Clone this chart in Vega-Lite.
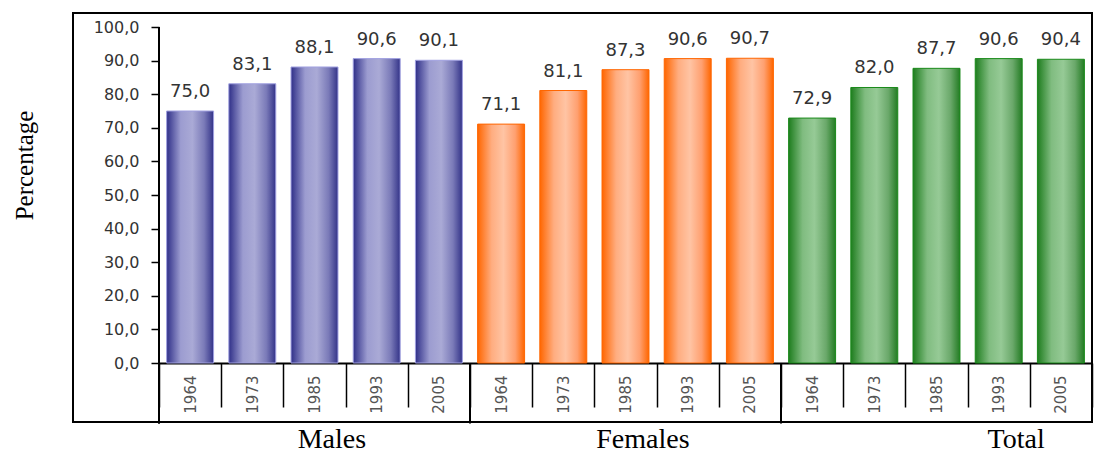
{
  "$schema": "https://vega.github.io/schema/vega-lite/v6.json",
  "width": 1019,
  "height": 409,
  "autosize": {"type": "none"},
  "padding": {"left": 73, "top": 13, "right": 3, "bottom": 33},
  "background": "white",
  "config": {
    "locale": {"number": {"decimal": ",", "thousands": ".", "grouping": [3], "currency": ["", " €"]}},
    "view": {"stroke": "black", "strokeWidth": 2}
  },
  "datasets": {
    "rates": [
      {"group": "Males", "year": "1964", "cat": "Males|1964", "value": 75.0},
      {"group": "Males", "year": "1973", "cat": "Males|1973", "value": 83.1},
      {"group": "Males", "year": "1985", "cat": "Males|1985", "value": 88.1},
      {"group": "Males", "year": "1993", "cat": "Males|1993", "value": 90.6},
      {"group": "Males", "year": "2005", "cat": "Males|2005", "value": 90.1},
      {"group": "Females", "year": "1964", "cat": "Females|1964", "value": 71.1},
      {"group": "Females", "year": "1973", "cat": "Females|1973", "value": 81.1},
      {"group": "Females", "year": "1985", "cat": "Females|1985", "value": 87.3},
      {"group": "Females", "year": "1993", "cat": "Females|1993", "value": 90.6},
      {"group": "Females", "year": "2005", "cat": "Females|2005", "value": 90.7},
      {"group": "Total", "year": "1964", "cat": "Total|1964", "value": 72.9},
      {"group": "Total", "year": "1973", "cat": "Total|1973", "value": 82.0},
      {"group": "Total", "year": "1985", "cat": "Total|1985", "value": 87.7},
      {"group": "Total", "year": "1993", "cat": "Total|1993", "value": 90.6},
      {"group": "Total", "year": "2005", "cat": "Total|2005", "value": 90.4}
    ],
    "groups": [
      {"label": "Males", "at": "Males|1985"},
      {"label": "Females", "at": "Females|1985"},
      {"label": "Total", "at": "Total|1993"}
    ]
  },
  "data": {"name": "rates"},
  "layer": [
    {
      "mark": {"type": "bar", "width": {"band": 0.755}, "strokeWidth": 1},
      "encoding": {
        "x": {
          "field": "cat", "type": "nominal",
          "scale": {
            "domain": ["Males|1964","Males|1973","Males|1985","Males|1993","Males|2005","Females|1964","Females|1973","Females|1985","Females|1993","Females|2005","Total|1964","Total|1973","Total|1985","Total|1993","Total|2005"],
            "range": [86, 1019], "paddingInner": 0, "paddingOuter": 0
          },
          "axis": {
            "orient": "bottom", "offset": -59, "title": null,
            "domainColor": "black", "domainWidth": 2,
            "tickBand": "extent", "tickSize": 44, "tickColor": "black", "tickWidth": 1.5,
            "labelAngle": 270, "labelExpr": "split(datum.label, '|')[1]",
            "labelFont": "DejaVu Sans", "labelFontSize": 15, "labelColor": "#555555",
            "labelPadding": -32, "labelAlign": "right", "labelBaseline": "middle",
            "labelOverlap": false
          }
        },
        "y": {
          "field": "value", "type": "quantitative",
          "scale": {"domain": [-17.56, 104.17], "nice": false, "zero": false},
          "axis": {
            "values": [0, 10, 20, 30, 40, 50, 60, 70, 80, 90, 100],
            "format": ".1f", "offset": -86, "domain": false, "grid": false,
            "tickSize": 8, "tickColor": "black", "tickWidth": 1.5,
            "labelFont": "DejaVu Sans", "labelFontSize": 16, "labelColor": "#333333", "labelPadding": 12,
            "title": "Percentage", "titleFont": "Liberation Serif", "titleFontSize": 25,
            "titleFontWeight": "normal", "titleColor": "black",
            "titleX": -135, "titleY": 152, "titleAngle": 270, "titleAlign": "center", "titleBaseline": "middle"
          }
        },
        "y2": {"datum": 0},
        "color": {
          "condition": [
            {"test": "datum.group === 'Males'", "value": {"gradient": "linear", "x1": 0, "x2": 1, "y1": 0, "y2": 0, "stops": [
              {"offset": 0, "color": "#2f2f88"}, {"offset": 0.3, "color": "#9c9cd0"}, {"offset": 0.55, "color": "#aaaad6"}, {"offset": 0.8, "color": "#7a7ab8"}, {"offset": 1, "color": "#333388"}]}},
            {"test": "datum.group === 'Females'", "value": {"gradient": "linear", "x1": 0, "x2": 1, "y1": 0, "y2": 0, "stops": [
              {"offset": 0, "color": "#ff6600"}, {"offset": 0.3, "color": "#ffad80"}, {"offset": 0.55, "color": "#ffc4a4"}, {"offset": 0.8, "color": "#ffa070"}, {"offset": 1, "color": "#ff6600"}]}}
          ],
          "value": {"gradient": "linear", "x1": 0, "x2": 1, "y1": 0, "y2": 0, "stops": [
            {"offset": 0, "color": "#1e7d1e"}, {"offset": 0.3, "color": "#80bc80"}, {"offset": 0.55, "color": "#96ca96"}, {"offset": 0.8, "color": "#6aa86a"}, {"offset": 1, "color": "#237c23"}]}
        },
        "stroke": {
          "condition": [
            {"test": "datum.group === 'Males'", "value": "#a0a0e0"},
            {"test": "datum.group === 'Females'", "value": "#ff6600"}
          ],
          "value": "#1a8a1a"
        }
      }
    },
    {
      "mark": {"type": "text", "dy": -14, "baseline": "alphabetic", "align": "center", "font": "DejaVu Sans", "fontSize": 18, "fill": "#333333"},
      "encoding": {
        "x": {"field": "cat", "type": "nominal"},
        "y": {"field": "value", "type": "quantitative"},
        "text": {"field": "value", "type": "quantitative", "format": ".1f"}
      }
    },
    {
      "transform": [{"filter": "datum.cat === 'Males|1964'"}],
      "mark": {"type": "rule", "color": "black", "strokeWidth": 2},
      "encoding": {
        "x": {"field": "cat", "type": "nominal", "bandPosition": 0},
        "y": {"datum": 100},
        "y2": {"datum": -18}
      }
    },
    {
      "transform": [{"filter": "datum.year === '1964'"}],
      "mark": {"type": "rule", "color": "black", "strokeWidth": 2},
      "encoding": {
        "x": {"field": "cat", "type": "nominal", "bandPosition": 0},
        "y": {"datum": 0},
        "y2": {"datum": -18}
      }
    },
    {
      "data": {"name": "groups"},
      "mark": {"type": "text", "font": "Liberation Serif", "fontSize": 28, "baseline": "alphabetic", "align": "center", "fill": "black"},
      "encoding": {
        "x": {"field": "at", "type": "nominal", "bandPosition": 0.78},
        "y": {"datum": -25.3},
        "text": {"field": "label", "type": "nominal"}
      }
    }
  ]
}
